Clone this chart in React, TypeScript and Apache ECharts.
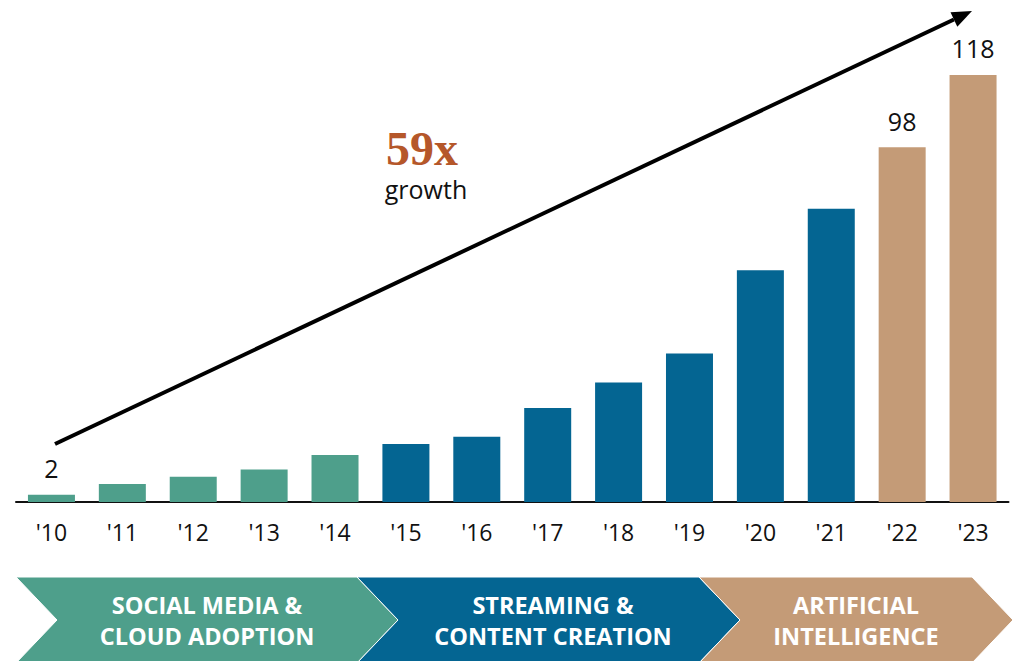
import React, { useEffect, useRef } from "react";
import * as echarts from "echarts";

const categories = ["'10", "'11", "'12", "'13", "'14", "'15", "'16", "'17", "'18", "'19", "'20", "'21", "'22", "'23"];
const values = [2, 5, 7, 9, 13, 16, 18, 26, 33, 41, 64, 81, 98, 118];
const eraOfBar = [0, 0, 0, 0, 0, 1, 1, 1, 1, 1, 1, 1, 2, 2];
const labeledBars = [0, 12, 13];
const eraColors = ["#4e9f8b", "#046592", "#c49b77"];
const eraLines = [
  ["SOCIAL MEDIA &", "CLOUD ADOPTION"],
  ["STREAMING &", "CONTENT CREATION"],
  ["ARTIFICIAL", "INTELLIGENCE"],
];
const growthValue = "59x";
const growthWord = "growth";

const SANS = "'Open Sans', 'Noto Sans', sans-serif";

export default function App() {
  const ref = useRef<HTMLDivElement>(null);
  useEffect(() => {
    if (!ref.current) return;
    const chart = echarts.init(ref.current, undefined, { renderer: "svg" });

    const data = values.map((v, i) => ({
      value: v,
      itemStyle: { color: eraColors[eraOfBar[i]] },
      label: { show: labeledBars.includes(i) },
    }));

    // chevrons
    const chevX = [16, 357, 699, 972];
    const depth = 41;
    const yTop = 577;
    const yMid = 620;
    const yBot = 663;
    const textCenters = [207, 553, 856];
    const chevrons: any[] = [];
    for (let k = 0; k < 3; k++) {
      const x0 = chevX[k];
      const x1 = chevX[k + 1];
      chevrons.push({
        type: "polygon",
        shape: {
          points: [
            [x0, yTop],
            [x1, yTop],
            [x1 + depth, yMid],
            [x1, yBot],
            [x0, yBot],
            [x0 + depth, yMid],
          ],
        },
        style: { fill: eraColors[k], stroke: "#ffffff", lineWidth: 1 },
        z: 10,
      });
      chevrons.push({
        type: "text",
        x: textCenters[k],
        y: yMid,
        style: {
          text: eraLines[k].join("\n"),
          fill: "#ffffff",
          font: `bold 23.5px ${SANS}`,
          lineHeight: 31,
          align: "center",
          verticalAlign: "middle",
        },
        z: 11,
      });
    }

    // arrow
    const sx = 55, sy = 444, tx = 972, ty = 11;
    const dx = tx - sx, dy = ty - sy;
    const len = Math.sqrt(dx * dx + dy * dy);
    const ux = dx / len, uy = dy / len;
    const nx = -uy, ny = ux;
    const headL = 20, headW = 8;
    const bx = tx - headL * ux, by = ty - headL * uy;

    chart.setOption({
      animation: false,
      grid: { left: 16, right: 10.5, top: 31.5, bottom: 159, containLabel: false },
      xAxis: {
        type: "category",
        data: categories,
        axisLine: { lineStyle: { color: "#111111", width: 2 } },
        axisTick: { show: false },
        axisLabel: { color: "#111111", fontSize: 23, fontFamily: SANS, margin: 18 },
      },
      yAxis: {
        type: "value",
        min: 0,
        max: 130,
        show: false,
        splitLine: { show: false },
      },
      series: [
        {
          type: "bar",
          data,
          barWidth: 47,
          label: {
            show: false,
            position: "top",
            distance: 14,
            color: "#111111",
            fontSize: 25,
            fontFamily: SANS,
          },
        },
      ],
      graphic: [
        {
          type: "line",
          shape: { x1: sx, y1: sy, x2: bx, y2: by },
          style: { stroke: "#000000", lineWidth: 4 },
          z: 10,
        },
        {
          type: "polygon",
          shape: {
            points: [
              [tx, ty],
              [bx + headW * nx, by + headW * ny],
              [bx - headW * nx, by - headW * ny],
            ],
          },
          style: { fill: "#000000" },
          z: 10,
        },
        {
          type: "text",
          x: 422,
          y: 148,
          style: {
            text: growthValue,
            fill: "#b5572a",
            font: "bold 48px 'Liberation Serif', 'DejaVu Serif', serif",
            align: "center",
            verticalAlign: "middle",
          },
          z: 10,
        },
        {
          type: "text",
          x: 426,
          y: 189,
          style: {
            text: growthWord,
            fill: "#111111",
            font: `25px ${SANS}`,
            align: "center",
            verticalAlign: "middle",
          },
          z: 10,
        },
        ...chevrons,
      ],
    });

    return () => chart.dispose();
  }, []);

  return (
    <div
      ref={ref}
      style={{ position: "fixed", left: 0, top: 0, width: 1019, height: 661, background: "#ffffff" }}
    />
  );
}
